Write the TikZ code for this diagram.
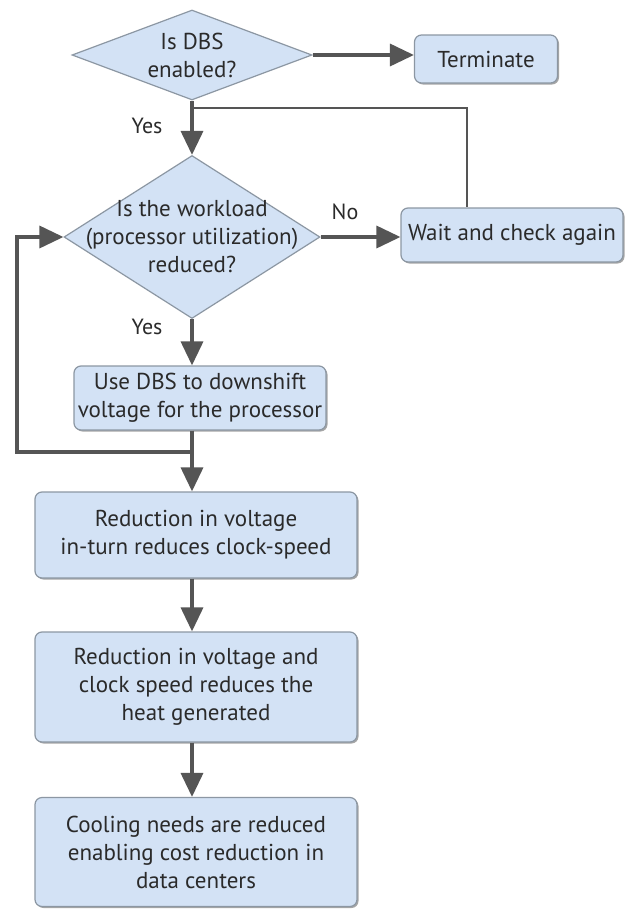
\documentclass[tikz,border=0pt]{standalone}
\usepackage{fontspec}
\setmainfont{PT Sans}
\usetikzlibrary{shapes.geometric,arrows.meta,shadows}
\definecolor{boxfill}{HTML}{D3E2F5}
\definecolor{boxline}{HTML}{8C97A3}
\definecolor{arrowc}{HTML}{555555}
\definecolor{txt}{HTML}{2A2A2A}
\begin{document}
\begin{tikzpicture}[x=1pt,y=-1pt,
 every node/.style={font=\fontsize{23}{28}\selectfont, text=txt},
 proc/.style={draw=boxline, line width=1.2pt, fill=boxfill, rounded corners=7pt, align=center, inner sep=0pt,
   drop shadow={shadow xshift=1.5pt, shadow yshift=-1.5pt, fill=black, opacity=0.35}},
 dec/.style={diamond, draw=boxline, line width=1.2pt, fill=boxfill, inner sep=0pt, aspect=2},
 dtext/.style={align=center, inner sep=0pt},
 arr/.style={draw=arrowc, line width=3.5pt, -{Triangle[length=24pt,width=22pt]}},
 thinline/.style={draw=arrowc, line width=1.3pt},
 lbl/.style={font=\fontsize{22}{24}\selectfont}
]
\useasboundingbox[fill=white] (0,0) rectangle (626,911);

\node[dec, minimum width=240, minimum height=90] (d1) at (192,55) {};
\node[dtext] (d1t) at (d1) {Is DBS\\enabled?};
\node[proc, minimum width=143, minimum height=48] (term) at (486,59) {Terminate};
\node[dec, minimum width=256, minimum height=163] (d2) at (192,237) {};
\node[dtext] (d2t) at (d2) {Is the workload\\(processor utilization)\\reduced?};
\node[proc, minimum width=222, minimum height=54] (wait) at (512,235) {Wait and check again};
\node[proc, minimum width=252, minimum height=64] (dbs) at (200,398) {Use DBS to downshift\\voltage for the processor};
\node[proc, minimum width=322, minimum height=86] (b3) at (196,535) {Reduction in voltage\\in-turn reduces clock-speed};
\node[proc, minimum width=322, minimum height=110] (b4) at (196,687) {Reduction in voltage and\\clock speed reduces the\\heat generated};
\node[proc, minimum width=322, minimum height=109] (b5) at (196,852) {Cooling needs are reduced\\enabling cost reduction in\\data centers};

\node[lbl] (yes1) at (147,126) {Yes};
\node[lbl] (yes2) at (147,327) {Yes};
\node[lbl] (no) at (345,212) {No};

\coordinate (t) at (192,108);
\coordinate (tr) at (467,108);
\coordinate (j) at (192,452);
\coordinate (lp) at (17,452);

\draw[thinline] (t) -- (tr) -- (tr |- wait.north);
\draw[arr] (d1.east) -- (term.west |- d1.east);
\draw[arr] (d1.south) -- (d2.north);
\draw[arr] (d2.east) -- (wait.west |- d2.east);
\draw[arr] (d2.south) -- (d2.south |- dbs.north);
\draw[arr] (d2.south |- dbs.south) -- (d2.south |- b3.north);
\draw[arr] (j) -- (lp) |- (d2.west);
\draw[arr] (d2.south |- b3.south) -- (d2.south |- b4.north);
\draw[arr] (d2.south |- b4.south) -- (d2.south |- b5.north);
\end{tikzpicture}
\end{document}
